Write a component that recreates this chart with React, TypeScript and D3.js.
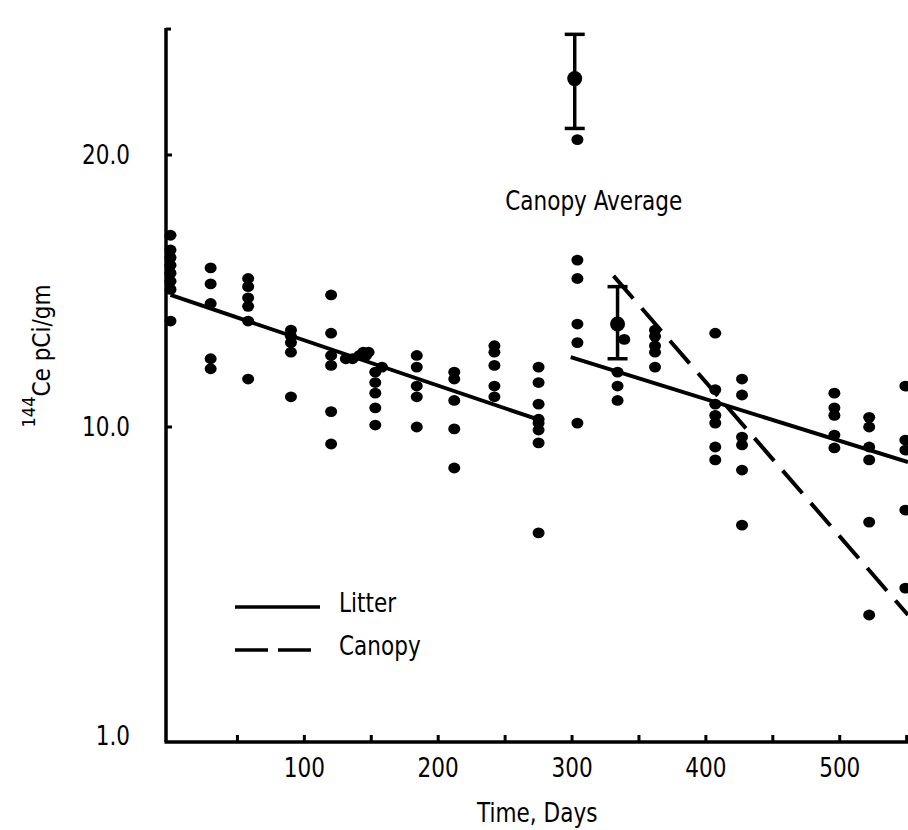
import React from "react";
import * as d3 from "d3";

// ---- data ----
const sampleDays = [0, 30, 58, 90, 120, 153, 184, 212, 242, 275, 304, 334, 362, 407, 427, 496, 522, 549];
const sampleValues: number[][] = [
  [16.3, 15.7, 15.4, 15.1, 14.8, 14.5, 14.2, 13.1],
  [15.0, 14.4, 13.7, 11.9, 11.6],
  [14.6, 14.3, 13.9, 13.6, 13.1, 11.3],
  [12.8, 12.6, 12.4, 12.1, 10.8],
  [14.0, 12.7, 12.0, 11.7, 10.4, 8.83],
  [11.5, 11.2, 10.9, 10.5, 10.05],
  [12.0, 11.65, 11.1, 10.8, 10.0],
  [11.5, 11.3, 10.7, 9.86, 7.41],
  [12.3, 12.1, 11.7, 11.1, 10.8],
  [11.65, 11.2, 10.6, 10.2, 10.1, 9.78, 8.9, 4.61],
  [20.8, 15.3, 14.6, 13.0, 12.4, 10.1],
  [11.5, 11.1, 10.7],
  [12.8, 12.6, 12.3, 12.1, 11.65],
  [12.7, 11.0, 10.6, 10.3, 10.1, 8.64, 7.86],
  [11.3, 10.85, 9.29, 8.77, 7.3, 4.88],
  [10.9, 10.5, 10.3, 9.43, 8.58],
  [10.25, 10.0, 8.64, 7.86, 4.99, 2.53],
  [11.1, 9.09, 8.45, 5.45, 3.08],
];
const extraDays = [131, 136, 141, 144, 146, 148, 158, 339];
const extraValues = [11.9, 11.9, 12.0, 12.1, 12.0, 12.1, 11.65, 12.5];

const avgDays = [302, 334];
const avgMean = [24.3, 13.0];
const avgHigh = [27.2, 14.3];
const avgLow = [21.4, 11.9];

const litterFit1Days = [0, 274];
const litterFit1Values = [14.0, 10.2];
const litterFit2Days = [299, 551];
const litterFit2Values = [11.95, 7.74];
const canopyFitDays = [331, 551];
const canopyFitValues = [14.7, 2.53];

const yTickValues = [1, 10, 20];
const yTickLabels = ["1.0", "10.0", "20.0"];
const xTickValues = [50, 100, 150, 200, 250, 300, 350, 400, 450, 500, 550];
const xLabelValues = [100, 200, 300, 400, 500];
const yTop = 27.5;

const W = 908;
const H = 830;
const FONT = "'DejaVu Sans Condensed', 'Liberation Sans Narrow', 'Liberation Sans', Arial, sans-serif";
const FS = 24;

// text stretched a little vertically, like the tall typewriter lettering of the original
function TallText(props: { x: number; y: number; anchor?: string; size?: number; children: React.ReactNode }) {
  const { x, y, anchor = "start", size = FS, children } = props;
  return (
    <g transform={`translate(${x},${y}) scale(1,1.12)`}>
      <text x={0} y={0} textAnchor={anchor} fontSize={size}>
        {children}
      </text>
    </g>
  );
}

export default function App() {
  const x = d3.scaleLinear().domain([0, 551]).range([170.5, 908]);
  const y = d3.scaleLog().domain([1, 10, 20]).range([742, 427, 155]);

  const axisX = x(0) - 4.5;
  const axisY = y(1);

  const line = d3
    .line<[number, number]>()
    .x((d) => x(d[0]))
    .y((d) => y(d[1]));

  const fit1 = line(litterFit1Days.map((d, i) => [d, litterFit1Values[i]]));
  const fit2 = line(litterFit2Days.map((d, i) => [d, litterFit2Values[i]]));
  const fitC = line(canopyFitDays.map((d, i) => [d, canopyFitValues[i]]));

  const points: [number, number][] = [];
  sampleDays.forEach((d, i) => sampleValues[i].forEach((v) => points.push([d, v])));
  extraDays.forEach((d, i) => points.push([d, extraValues[i]]));

  return (
    <svg
      width={W}
      height={H}
      style={{ position: "absolute", left: 0, top: 0, background: "#fff" }}
      fontFamily={FONT}
    >
      <rect width={W} height={H} fill="#fff" />
      <defs>
        <clipPath id="plot">
          <rect x={0} y={0} width={W} height={axisY + 2} />
        </clipPath>
      </defs>

      {/* axes */}
      <line x1={axisX} x2={axisX} y1={y(yTop) - 2} y2={axisY} stroke="#000" strokeWidth={3.5} />
      <line x1={axisX - 1.5} x2={W} y1={axisY} y2={axisY} stroke="#000" strokeWidth={3.5} />
      <line x1={axisX} x2={axisX + 5} y1={y(yTop) - 1} y2={y(yTop) - 1} stroke="#000" strokeWidth={3} />
      {yTickValues.slice(1).map((v) => (
        <line key={v} x1={axisX} x2={axisX + 6} y1={y(v)} y2={y(v)} stroke="#000" strokeWidth={3} />
      ))}
      {xTickValues.map((v) => (
        <line key={v} x1={x(v)} x2={x(v)} y1={axisY} y2={axisY - 7} stroke="#000" strokeWidth={3} />
      ))}
      {yTickValues.map((v, i) => (
        <TallText key={v} x={axisX - 36} y={y(v) + (v === 1 ? 3 : 9)} anchor="end">
          {yTickLabels[i]}
        </TallText>
      ))}
      {xLabelValues.map((v) => (
        <TallText key={v} x={x(v)} y={axisY + 35} anchor="middle">
          {String(v)}
        </TallText>
      ))}
      <TallText x={(x(0) + W) / 2 - 2} y={axisY + 80} anchor="middle">
        Time, Days
      </TallText>
      <text transform={`translate(50,356) rotate(-90)`} textAnchor="middle" fontSize={FS}>
        <tspan fontSize={18} dy={-15}>144</tspan>
        <tspan dy={15}>Ce pCi/gm</tspan>
      </text>

      <g clipPath="url(#plot)">
        {/* fitted lines */}
        <path d={fit1 ?? ""} fill="none" stroke="#000" strokeWidth={4} />
        <path d={fit2 ?? ""} fill="none" stroke="#000" strokeWidth={4} />
        <path d={fitC ?? ""} fill="none" stroke="#000" strokeWidth={4} strokeDasharray="30,13" />

        {/* samples */}
        {points.map((p, i) => (
          <ellipse key={i} cx={x(p[0])} cy={y(p[1])} rx={6} ry={5.4} fill="#000" />
        ))}

        {/* canopy averages with error bars */}
        {avgDays.map((d, i) => (
          <g key={d}>
            <line x1={x(d)} x2={x(d)} y1={y(avgHigh[i])} y2={y(avgLow[i])} stroke="#000" strokeWidth={3.5} />
            <line x1={x(d) - 10} x2={x(d) + 10} y1={y(avgHigh[i])} y2={y(avgHigh[i])} stroke="#000" strokeWidth={3.5} />
            <line x1={x(d) - 10} x2={x(d) + 10} y1={y(avgLow[i])} y2={y(avgLow[i])} stroke="#000" strokeWidth={3.5} />
            <circle cx={x(d)} cy={y(avgMean[i])} r={7.5} fill="#000" />
          </g>
        ))}
      </g>

      <TallText x={x(302) + 19} y={y(20) + 55} anchor="middle">
        Canopy Average
      </TallText>

      {/* legend */}
      <line x1={235} x2={320} y1={607} y2={607} stroke="#000" strokeWidth={3.5} />
      <TallText x={339} y={612}>Litter</TallText>
      <line x1={235} x2={320} y1={650} y2={650} stroke="#000" strokeWidth={3.5} strokeDasharray="33,10" />
      <TallText x={339} y={655}>Canopy</TallText>
    </svg>
  );
}
